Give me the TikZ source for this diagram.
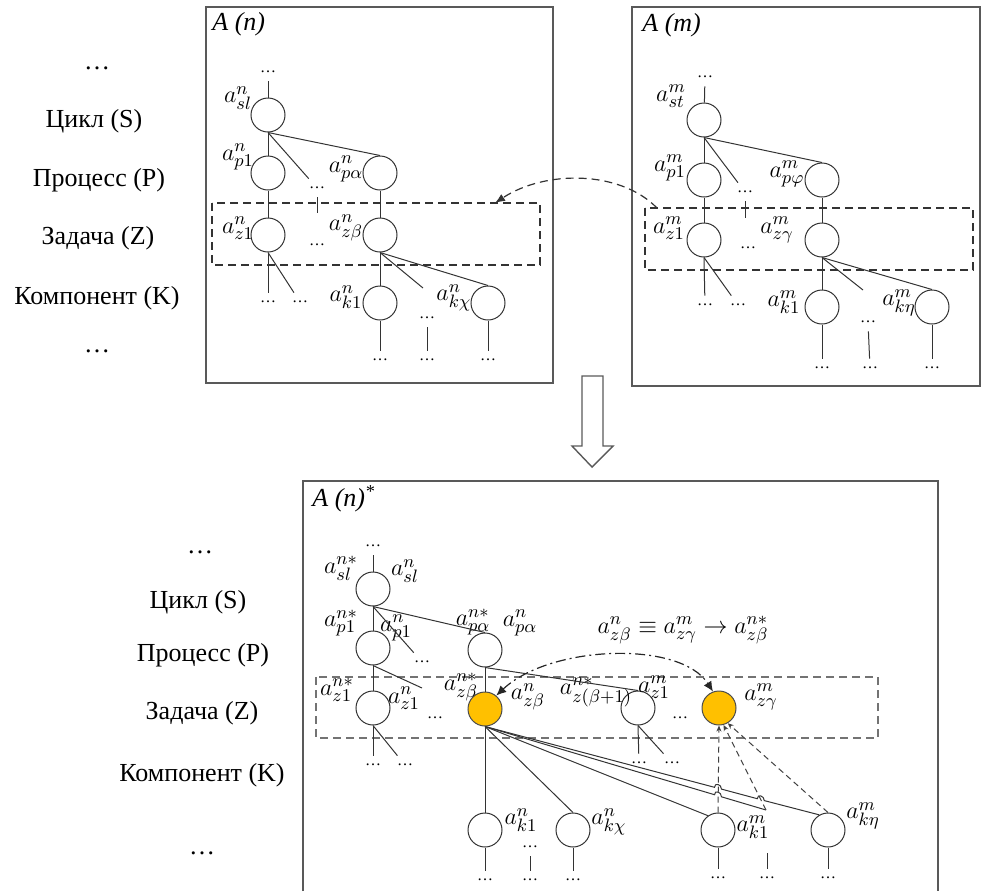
\documentclass[tikz,border=0pt]{standalone}
\usepackage{fontspec}
\setmainfont{Liberation Serif}
\usetikzlibrary{arrows.meta}
\definecolor{hitfill}{HTML}{FFC000}
\tikzset{
  vert/.style={draw=black!80, circle, minimum size=17pt, inner sep=0pt, line width=0.5pt},
  hit/.style={vert, fill=hitfill, draw=black!70},
  lbl/.style={font=\fontsize{13}{15}\selectfont, inner sep=0pt},
  dts/.style={font=\fontsize{8}{9}\selectfont, inner sep=4pt},
  lvl/.style={font=\fontsize{13}{15}\selectfont},
  ttl/.style={font=\fontsize{13}{15}\selectfont\itshape, anchor=west, inner sep=0pt},
  ed/.style={draw=black!80, line width=0.5pt},
  frame/.style={draw=black!65, line width=0.7pt},
  zbox/.style={draw=black!80, dash pattern=on 4pt off 2.5pt, line width=0.6pt},
  gbox/.style={draw=black!55, dash pattern=on 4pt off 2.5pt, line width=0.6pt},
  dsh/.style={draw=black!75, dash pattern=on 3pt off 2pt, line width=0.5pt},
}
\begin{document}
\begin{tikzpicture}[x=0.5pt, y=-0.5pt]
\useasboundingbox (0,0) rectangle (982,891);

\node[lvl] (t0) at (97,68) {\dots};
\node[lvl] (ts) at (94,121) {Цикл (S)};
\node[lvl] (tp) at (99,180) {Процесс (P)};
\node[lvl] (tz) at (98,238) {Задача (Z)};
\node[lvl] (tk) at (97,298) {Компонент (K)};
\node[lvl] (t9) at (97,351) {\dots};

\node[lvl] (b0) at (200,552) {\dots};
\node[lvl] (bs) at (198,602) {Цикл (S)};
\node[lvl] (bp) at (203,655) {Процесс (P)};
\node[lvl] (bz) at (202,713) {Задача (Z)};
\node[lvl] (bk) at (202,775) {Компонент (K)};
\node[lvl] (b9) at (202,853) {\dots};

\draw[frame] (206,7) rectangle (553,383);
\draw[frame] (632,7) rectangle (980,386);
\draw[frame] (303,891) -- (303,481) -- (938,481) -- (938,891);
\node[ttl] (tn) at (212,24) {A (n)};
\node[ttl] (tm) at (642,25) {A (m)};
\node[ttl] (ts2) at (312,499) {A (n)\textsuperscript{*}};

\draw[frame] (582,376) -- (603,376) -- (603,446) -- (613,446) -- (592,467) -- (572,446) -- (582,446) -- cycle;

\draw[zbox] (212,203) rectangle (540,265);
\draw[zbox] (645,208) rectangle (973,270);
\draw[gbox] (316,677) rectangle (878,738);

\node[dts] (ndt) at (268,72) {\dots};
\node[vert] (nsl) at (268,115) {};
\node[vert] (np1) at (268,173) {};
\node[vert] (npa) at (380,173) {};
\node[vert] (nz1) at (268,235) {};
\node[vert] (nzb) at (380,235) {};
\node[vert] (nk1) at (380,303) {};
\node[vert] (nkc) at (488,303) {};
\node[dts] (ndp) at (317,188) {\dots};
\node[dts] (ndz) at (317,245) {\dots};
\node[dts] (nd1) at (268,302) {\dots};
\node[dts] (nd2) at (300,302) {\dots};
\node[dts] (nd3) at (427,318) {\dots};
\node[dts] (nd4) at (427,360) {\dots};
\node[dts] (nd5) at (380,360) {\dots};
\node[dts] (nd6) at (488,360) {\dots};
\coordinate (ntk) at (317,213);
\coordinate (nke) at (423,288);
\node[lbl] (lnsl) at (238,98) {$a^{n}_{sl}$};
\node[lbl] (lnp1) at (238,157) {$a^{n}_{p1}$};
\node[lbl] (lnpa) at (346,169) {$a^{n}_{p\alpha}$};
\node[lbl] (lnz1) at (238,228) {$a^{n}_{z1}$};
\node[lbl] (lnzb) at (346,228) {$a^{n}_{z\beta}$};
\node[lbl] (lnk1) at (346,297) {$a^{n}_{k1}$};
\node[lbl] (lnkc) at (454,298) {$a^{n}_{k\chi}$};
\path[ed] (ndt) -- (nsl);
\path[ed] (nsl.south) -- (np1.north);
\path[ed] (nsl.south) -- (npa.north);
\path[ed] (nsl.south) -- (ndp);
\path[ed] (ndp.south) -- (ntk);
\path[ed] (np1.south) -- (nz1.north);
\path[ed] (npa.south) -- (nzb.north);
\path[ed] (nz1.south) -- (nd1);
\path[ed] (nz1.south) -- (nd2);
\path[ed] (nzb.south) -- (nk1.north);
\path[ed] (nzb.south) -- (nke);
\path[ed] (nzb.south) -- (nkc.north);
\path[ed] (nd3) -- (nd4);
\path[ed] (nk1.south) -- (nd5);
\path[ed] (nkc.south) -- (nd6);

\node[dts] (mdt) at (705,77) {\dots};
\node[vert] (msl) at (704,120) {};
\node[vert] (mp1) at (704,180) {};
\node[vert] (mpf) at (822,180) {};
\node[vert] (mz1) at (704,240) {};
\node[vert] (mzg) at (822,240) {};
\node[vert] (mk1) at (822,307) {};
\node[vert] (mke) at (932,307) {};
\node[dts] (mdp) at (745,192) {\dots};
\node[dts] (mdz) at (748,248) {\dots};
\node[dts] (md1) at (705,305) {\dots};
\node[dts] (md2) at (738,305) {\dots};
\node[dts] (md3) at (868,322) {\dots};
\node[dts] (md4) at (870,368) {\dots};
\node[dts] (md5) at (822,368) {\dots};
\node[dts] (md6) at (932,368) {\dots};
\coordinate (mtk) at (745,218);
\coordinate (mkt) at (863,290);
\node[lbl] (lmsl) at (671,96) {$a^{m}_{st}$};
\node[lbl] (lmp1) at (670,168) {$a^{m}_{p1}$};
\node[lbl] (lmpf) at (787,174) {$a^{m}_{p\varphi}$};
\node[lbl] (lmz1) at (669,228) {$a^{m}_{z1}$};
\node[lbl] (lmzg) at (777,230) {$a^{m}_{z\gamma}$};
\node[lbl] (lmk1) at (784,302) {$a^{m}_{k1}$};
\node[lbl] (lmke) at (899,303) {$a^{m}_{k\eta}$};
\path[ed] (mdt) -- (msl);
\path[ed] (msl.south) -- (mp1.north);
\path[ed] (msl.south) -- (mpf.north);
\path[ed] (msl.south) -- (mdp);
\path[ed] (mdp.south) -- (mtk);
\path[ed] (mp1.south) -- (mz1.north);
\path[ed] (mpf.south) -- (mzg.north);
\path[ed] (mz1.south) -- (md1);
\path[ed] (mz1.south) -- (md2);
\path[ed] (mzg.south) -- (mk1.north);
\path[ed] (mzg.south) -- (mkt);
\path[ed] (mzg.south) -- (mke.north);
\path[ed] (md3) -- (md4);
\path[ed] (mk1.south) -- (md5);
\path[ed] (mke.south) -- (md6);

\coordinate (mfrom) at (657,208);
\coordinate (nto) at (495,203);
\path[zbox, -{Latex[length=5pt,width=4pt]}] (mfrom) .. controls (620,170) and (545,170) .. (nto);

\node[dts] (sdt) at (373,546) {\dots};
\node[vert] (ssl) at (373,589) {};
\node[vert] (sp1) at (373,648) {};
\node[vert] (spa) at (485,650) {};
\node[vert] (sz1) at (373,708) {};
\node[hit] (szb) at (485,709) {};
\node[vert] (szn) at (638,708) {};
\node[hit] (szg) at (719,708) {};
\node[vert] (sk1) at (485,830) {};
\node[vert] (skc) at (573,830) {};
\node[vert] (smk1) at (718,830) {};
\node[vert] (smke) at (828,830) {};
\node[dts] (sdp) at (422,662) {\dots};
\node[dts] (sdz) at (435,718) {\dots};
\node[dts] (sdy) at (680,718) {\dots};
\node[dts] (sd1) at (373,765) {\dots};
\node[dts] (sd2) at (405,765) {\dots};
\node[dts] (sd3) at (639,763) {\dots};
\node[dts] (sd4) at (672,763) {\dots};
\node[dts] (sd5) at (485,880) {\dots};
\node[dts] (sd6) at (530,847) {\dots};
\node[dts] (sd7) at (530,880) {\dots};
\node[dts] (sd8) at (573,880) {\dots};
\node[dts] (sd9) at (718,878) {\dots};
\node[dts] (sd10) at (767,878) {\dots};
\node[dts] (sd11) at (828,878) {\dots};
\coordinate (spe) at (422,688);
\coordinate (smkx) at (766,810);
\coordinate (stk) at (767,853);
\node[lbl] (lssl) at (341,568) {$a^{n*}_{sl}$};
\node[lbl] (lssl2) at (405,571) {$a^{n}_{sl}$};
\node[lbl] (lsp1) at (341,623) {$a^{n*}_{p1}$};
\node[lbl] (lsp12) at (396,628) {$a^{n}_{p1}$};
\node[lbl] (lspa) at (473,622) {$a^{n*}_{p\alpha}$};
\node[lbl] (lspa2) at (520,623) {$a^{n}_{p\alpha}$};
\node[lbl] (lsz1) at (337,690) {$a^{n*}_{z1}$};
\node[lbl] (lsz12) at (404,698) {$a^{n}_{z1}$};
\node[lbl] (lszb) at (461,687) {$a^{n*}_{z\beta}$};
\node[lbl] (lszb2) at (528,697) {$a^{n}_{z\beta}$};
\node[lbl] (lszn) at (596,692) {$a^{n*}_{z(\beta+1)}$};
\node[lbl] (lszn2) at (654,687) {$a^{m}_{z1}$};
\node[lbl] (lszg) at (761,697) {$a^{m}_{z\gamma}$};
\node[lbl] (lsk1) at (521,820) {$a^{n}_{k1}$};
\node[lbl] (lskc) at (609,822) {$a^{n}_{k\chi}$};
\node[lbl] (lsmk1) at (753,827) {$a^{m}_{k1}$};
\node[lbl] (lsmke) at (863,816) {$a^{m}_{k\eta}$};
\node[lbl] (rule) at (683,630) {$a^{n}_{z\beta}\equiv a^{m}_{z\gamma}\rightarrow a^{n*}_{z\beta}$};
\path[ed] (sdt) -- (ssl);
\path[ed] (ssl.south) -- (sp1.north);
\path[ed] (ssl.south) -- (spa.north);
\path[ed] (ssl.south) -- (sdp);
\path[ed] (sp1.south) -- (sz1.north);
\path[ed] (sp1.south) -- (spe);
\path[ed] (spa.south) -- (szb.north);
\path[ed] (spa.south) -- (szn.north);
\path[ed] (sz1.south) -- (sd1);
\path[ed] (sz1.south) -- (sd2);
\path[ed] (szn.south) -- (sd3);
\path[ed] (szn.south) -- (sd4);
\path[ed] (szb.south) -- (sk1.north);
\path[ed] (szb.south) -- (skc.north);
\path[ed] (szb.south) -- (smk1.125);
\path[ed] (szb.south) -- (714.5,794.7) .. controls +(0,-5) and +(0,-5) .. (721.5,796.8) -- (smkx);
\path[ed] (szb.south) -- (714.5,787.3) .. controls +(0,-5) and +(0,-5) .. (721.5,789.1) -- (757.3,798.7) .. controls +(0,-5) and +(0,-5) .. (764.3,800.6) -- (smke.120);
\path[ed] (sk1.south) -- (sd5);
\path[ed] (sd6) -- (sd7);
\path[ed] (skc.south) -- (sd8);
\path[ed] (smk1.south) -- (sd9);
\path[ed] (stk) -- (sd10);
\path[ed] (smke.south) -- (sd11);
\path[dsh, -{Stealth[length=3pt,width=2.5pt]}] (smk1.north) -- (szg.south);
\path[dsh, -{Stealth[length=3pt,width=2.5pt]}] (smkx) -- (szg.-75);
\path[dsh, -{Stealth[length=3pt,width=2.5pt]}] (smke.north) -- (szg.-60);
\path[draw=black!85, line width=0.6pt, dash pattern=on 5pt off 2pt on 1pt off 2pt, {Latex[length=5pt,width=4.5pt]}-{Latex[length=5pt,width=4.5pt]}] (szb.50) .. controls (550,645) and (680,640) .. (szg.110);
\end{tikzpicture}
\end{document}
